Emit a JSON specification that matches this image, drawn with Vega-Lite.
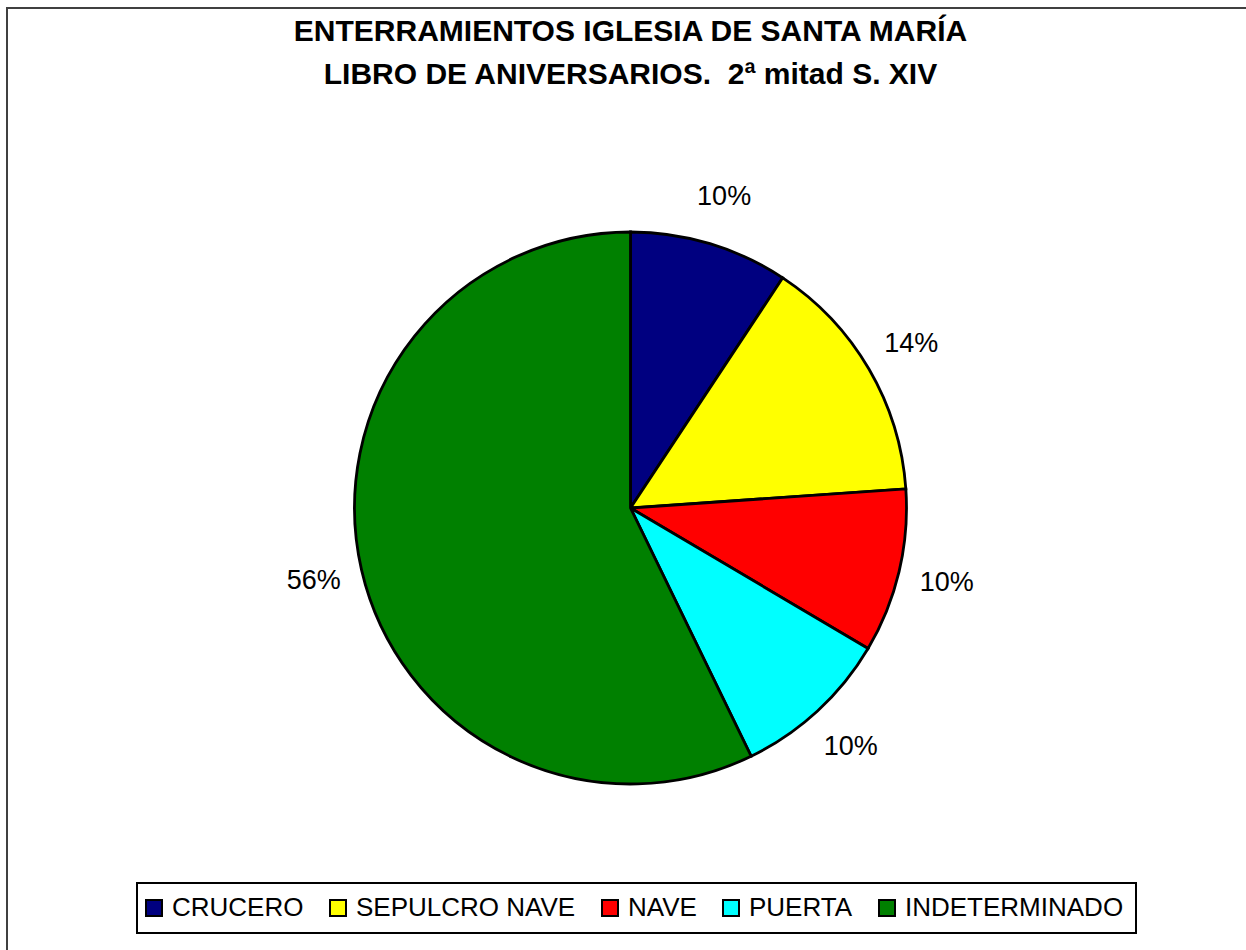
{
  "$schema": "https://vega.github.io/schema/vega-lite/v6.json",
  "width": 1247,
  "height": 1000,
  "autosize": {"type": "none"},
  "padding": {"left": 7, "top": 8, "right": 0, "bottom": 0},
  "background": "white",
  "view": {"stroke": "#404040", "strokeWidth": 2, "fill": "white"},
  "config": {
    "view": {"stroke": "#404040", "strokeWidth": 2},
    "style": {"cell": {"stroke": "#404040", "strokeWidth": 2}},
    "font": "Liberation Sans",
    "legend": {"strokeWidth": 2}
  },
  "title": {
    "text": ["ENTERRAMIENTOS IGLESIA DE SANTA MARÍA", "LIBRO DE ANIVERSARIOS.\u00a0 2ª mitad S. XIV"],
    "anchor": "middle",
    "frame": "group",
    "offset": -82,
    "font": "Liberation Sans",
    "fontSize": 30,
    "fontWeight": "bold",
    "lineHeight": 43,
    "color": "black"
  },
  "data": {
    "values": [
      {"idx": 1, "categoria": "CRUCERO", "share": 9.3, "pct": "10%"},
      {"idx": 2, "categoria": "SEPULCRO NAVE", "share": 14.6, "pct": "14%"},
      {"idx": 3, "categoria": "NAVE", "share": 9.6, "pct": "10%"},
      {"idx": 4, "categoria": "PUERTA", "share": 9.3, "pct": "10%"},
      {"idx": 5, "categoria": "INDETERMINADO", "share": 57.2, "pct": "56%"}
    ]
  },
  "encoding": {
    "theta": {"field": "share", "type": "quantitative", "stack": true},
    "order": {"field": "idx", "type": "quantitative"}
  },
  "layer": [
    {
      "mark": {"type": "arc", "outerRadius": 276, "stroke": "black", "strokeWidth": 2.8},
      "encoding": {
        "color": {
          "field": "categoria",
          "type": "nominal",
          "sort": null,
          "scale": {
            "domain": ["CRUCERO", "SEPULCRO NAVE", "NAVE", "PUERTA", "INDETERMINADO"],
            "range": ["#000080", "#FFFF00", "#FF0000", "#00FFFF", "#008000"]
          },
          "legend": {
            "orient": "none",
            "legendX": 130,
            "legendY": 875,
            "direction": "horizontal",
            "columns": 5,
            "title": null,
            "symbolType": "square",
            "symbolSize": 256,
            "symbolStrokeColor": "black",
            "symbolStrokeWidth": 2,
            "symbolOpacity": 1,
            "symbolOffset": -8,
            "labelFont": "Liberation Sans",
            "labelFontSize": 26,
            "labelColor": "black",
            "labelOffset": 5,
            "labelLimit": 400,
            "columnPadding": 22,
            "padding": 12,
            "strokeColor": "black"
          }
        }
      }
    },
    {
      "mark": {"type": "text", "radius": 325, "font": "Liberation Sans", "fontSize": 27, "color": "black", "align": "center", "baseline": "middle"},
      "encoding": {"text": {"field": "pct", "type": "nominal"}}
    }
  ]
}
